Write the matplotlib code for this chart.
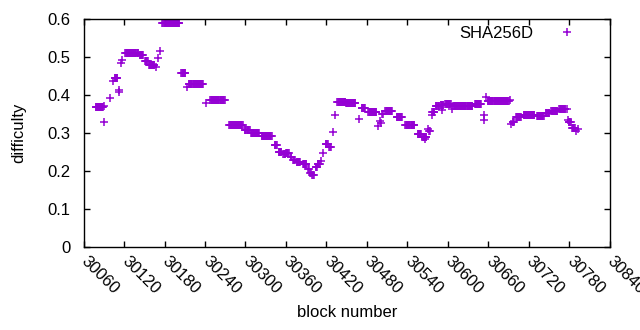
"""SHA256D difficulty per block, gnuplot-like look."""
import matplotlib
matplotlib.use("Agg")
import matplotlib.pyplot as plt
import numpy as np

plt.rcParams["font.family"] = ["Liberation Sans", "DejaVu Sans"]

# runs of constant difficulty: first block, last block, difficulty
run_start = [30078, 30090, 30091, 30099, 30104, 30106, 30112, 30113, 30116, 30117,
             30122, 30143, 30151, 30157, 30167, 30170, 30174, 30177, 30205, 30214,
             30216, 30242, 30248, 30276, 30299, 30308, 30324, 30343, 30349, 30356,
             30360, 30367, 30371, 30376, 30385, 30393, 30396, 30399, 30404, 30407,
             30412, 30415, 30419, 30424, 30429, 30432, 30436, 30449, 30468, 30472,
             30482, 30497, 30500, 30501, 30503, 30507, 30524, 30537, 30555, 30562,
             30566, 30571, 30572, 30576, 30577, 30582, 30589, 30591, 30596, 30606,
             30608, 30640, 30653, 30653, 30656, 30659, 30692, 30694, 30696, 30701,
             30712, 30732, 30745, 30753, 30765, 30776, 30778, 30779, 30784, 30790,
             30792]
run_end = [30089, 30090, 30091, 30099, 30104, 30110, 30112, 30113, 30116, 30117,
           30141, 30148, 30155, 30165, 30167, 30170, 30174, 30202, 30211, 30214,
           30237, 30242, 30269, 30296, 30306, 30320, 30339, 30346, 30353, 30359,
           30364, 30368, 30373, 30381, 30390, 30394, 30397, 30401, 30406, 30410,
           30412, 30415, 30422, 30426, 30429, 30432, 30448, 30463, 30468, 30477,
           30494, 30497, 30500, 30501, 30504, 30517, 30532, 30550, 30560, 30568,
           30566, 30571, 30573, 30576, 30580, 30587, 30593, 30591, 30604, 30606,
           30636, 30649, 30653, 30653, 30656, 30690, 30692, 30694, 30698, 30708,
           30728, 30742, 30750, 30762, 30774, 30776, 30778, 30782, 30788, 30790,
           30792]
run_value = [0.368, 0.372, 0.330, 0.393, 0.436, 0.446, 0.414, 0.409, 0.484, 0.492,
             0.512, 0.505, 0.491, 0.479, 0.474, 0.497, 0.515, 0.589, 0.458, 0.420,
             0.430, 0.378, 0.388, 0.322, 0.308, 0.301, 0.291, 0.267, 0.250, 0.243,
             0.247, 0.236, 0.228, 0.224, 0.218, 0.205, 0.195, 0.188, 0.210, 0.218,
             0.225, 0.246, 0.272, 0.263, 0.303, 0.346, 0.381, 0.378, 0.337, 0.366,
             0.355, 0.317, 0.332, 0.325, 0.350, 0.359, 0.343, 0.320, 0.296, 0.289,
             0.283, 0.311, 0.306, 0.346, 0.354, 0.370, 0.375, 0.360, 0.377, 0.364,
             0.370, 0.377, 0.348, 0.333, 0.394, 0.384, 0.386, 0.324, 0.328, 0.342,
             0.348, 0.345, 0.352, 0.359, 0.364, 0.364, 0.333, 0.328, 0.314, 0.306,
             0.311]

xticks = np.arange(30060, 30841, 60)
yticks = [0, 0.1, 0.2, 0.3, 0.4, 0.5, 0.6]

blocks = np.concatenate([np.arange(s, e + 1) for s, e in zip(run_start, run_end)])
diff = np.concatenate([np.full(e - s + 1, v) for s, e, v in zip(run_start, run_end, run_value)])

fig = plt.figure(figsize=(6.4, 3.3), dpi=100)
ax = fig.add_axes([0.1305, 0.253, 0.8225, 0.6885])
ax.plot(blocks, diff, "+", color="#9400d3", ms=5.8, mew=1.1, ls="none", label="SHA256D")

ax.set_xlim(30060, 30840)
ax.set_ylim(0, 0.6)
ax.set_xticks(xticks)
ax.set_yticks(yticks)
ax.set_yticklabels(["0", "0.1", "0.2", "0.3", "0.4", "0.5", "0.6"])
ax.tick_params(direction="in", length=4, width=1, top=True, right=True,
               labelsize=12, colors="black")
ax.tick_params(axis="y", pad=9.5)
ax.tick_params(axis="x", pad=9)
for lab in ax.get_xticklabels():
    lab.set_rotation(-45)
    lab.set_ha("left")
    lab.set_va("center")
    lab.set_rotation_mode("anchor")
for s in ax.spines.values():
    s.set_linewidth(1.0)

ax.set_xlabel("block number", fontsize=12, labelpad=6)
ax.set_ylabel("difficulty", fontsize=12, labelpad=15)
ax.legend(loc="upper right", bbox_to_anchor=(0.9628, 1.0), frameon=False,
          markerfirst=False, handletextpad=1.04, fontsize=12, borderaxespad=0)

fig.savefig("out.png", dpi=100)
